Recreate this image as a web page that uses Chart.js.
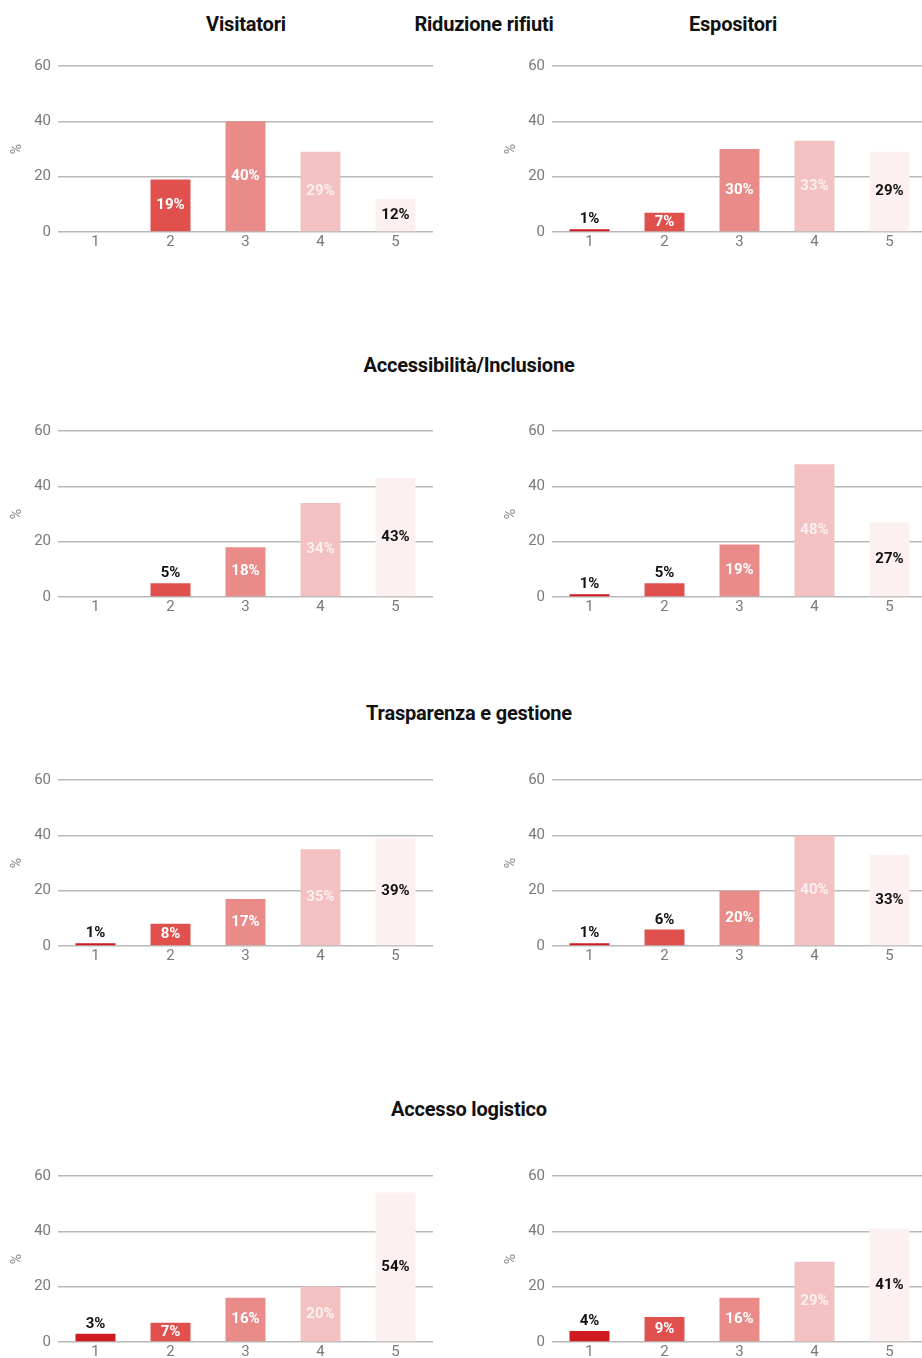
<!DOCTYPE html>
<html lang="it">
<head>
<meta charset="utf-8">
<title>Valutazioni</title>
<script src="https://cdn.jsdelivr.net/npm/chart.js@4.4.1/dist/chart.umd.min.js"></script>
<style>
  html, body { margin: 0; padding: 0; background: #fff; }
  body { width: 922px; height: 1358px; position: relative; overflow: hidden; font-family: Roboto, "Noto Sans", sans-serif; }
  .title { position: absolute; transform: translate(-50%, -50%); font-weight: 700; font-size: 20px; color: #111; white-space: nowrap; letter-spacing: -0.2px; }
  .box { position: absolute; width: 440px; height: 208px; }
</style>
</head>
<body>
<div class="title" style="left:246px;top:24px">Visitatori</div>
<div class="title" style="left:484px;top:24px">Riduzione rifiuti</div>
<div class="title" style="left:733px;top:24px">Espositori</div>
<div class="title" style="left:469px;top:365px">Accessibilità/Inclusione</div>
<div class="title" style="left:469px;top:713px">Trasparenza e gestione</div>
<div class="title" style="left:469px;top:1109px">Accesso logistico</div>

<div class="box" style="left:0;top:50px"><canvas id="c1"></canvas></div>
<div class="box" style="left:494px;top:50px"><canvas id="c2"></canvas></div>
<div class="box" style="left:0;top:415px"><canvas id="c3"></canvas></div>
<div class="box" style="left:494px;top:415px"><canvas id="c4"></canvas></div>
<div class="box" style="left:0;top:764px"><canvas id="c5"></canvas></div>
<div class="box" style="left:494px;top:764px"><canvas id="c6"></canvas></div>
<div class="box" style="left:0;top:1160px"><canvas id="c7"></canvas></div>
<div class="box" style="left:494px;top:1160px"><canvas id="c8"></canvas></div>

<script>
// Rating scale (1 = lowest, 5 = highest)
const ratingLabels = ['1', '2', '3', '4', '5'];
const yMax = 60;
const yStep = 20;

// Share of answers (%) per rating
const visitatoriRifiuti = [0, 19, 40, 29, 12];
const espositoriRifiuti = [1, 7, 30, 33, 29];
const visitatoriAccessibilita = [0, 5, 18, 34, 43];
const espositoriAccessibilita = [1, 5, 19, 48, 27];
const visitatoriTrasparenza = [1, 8, 17, 35, 39];
const espositoriTrasparenza = [1, 6, 20, 40, 33];
const visitatoriLogistica = [3, 7, 16, 20, 54];
const espositoriLogistica = [4, 9, 16, 29, 41];

// One colour per rating, dark red to pale pink
const barColors = ['#d01a20', '#e0514e', '#e98b89', '#f3c1c1', '#fdf0f0'];
const insideLabelColors = ['#111111', '#ffffff', '#ffffff', 'rgba(255,255,255,0.75)', '#111111'];

const FONT = 'Roboto, "Noto Sans", sans-serif';

// Writes "NN%" on each bar; short bars get the label above in black
const valueLabels = {
  id: 'valueLabels',
  afterDatasetsDraw(chart) {
    const ctx = chart.ctx;
    const meta = chart.getDatasetMeta(0);
    const data = chart.data.datasets[0].data;
    ctx.save();
    ctx.font = 'bold 15px ' + FONT;
    ctx.textAlign = 'center';
    meta.data.forEach((bar, i) => {
      const v = data[i];
      if (!v) return;
      const text = v + '%';
      const h = bar.base - bar.y;
      if (h < 18) {
        ctx.fillStyle = '#111111';
        ctx.textBaseline = 'bottom';
        ctx.fillText(text, bar.x, bar.y - 2);
      } else {
        ctx.fillStyle = insideLabelColors[i];
        ctx.textBaseline = 'middle';
        ctx.fillText(text, bar.x, (bar.y + bar.base) / 2);
      }
    });
    ctx.restore();
  }
};

function makeChart(id, values) {
  return new Chart(document.getElementById(id), {
    type: 'bar',
    data: {
      labels: ratingLabels,
      datasets: [{
        data: values,
        backgroundColor: barColors,
        borderWidth: 0,
        categoryPercentage: 1,
        barPercentage: 0.533
      }]
    },
    options: {
      responsive: true,
      maintainAspectRatio: false,
      animation: false,
      layout: { padding: { top: 14, right: 7, left: 0, bottom: 0 } },
      plugins: { legend: { display: false }, tooltip: { enabled: false } },
      scales: {
        x: {
          grid: { display: false, drawTicks: false },
          border: { display: false },
          ticks: { color: '#7a7a7a', font: { family: FONT, size: 15 }, padding: 1 },
          afterFit(scale) { scale.height = 26; }
        },
        y: {
          min: 0,
          max: yMax,
          grid: { color: '#b9b9b9', lineWidth: 1.6, drawTicks: false },
          border: { display: false },
          ticks: { stepSize: yStep, color: '#7a7a7a', font: { family: FONT, size: 15 }, padding: 7 },
          title: {
            display: true,
            text: '%',
            color: '#8a8a8a',
            font: { family: FONT, size: 14 },
            padding: { top: 9, bottom: 0 }
          },
          afterFit(scale) { scale.width = 58; }
        }
      }
    },
    plugins: [valueLabels]
  });
}

makeChart('c1', visitatoriRifiuti);
makeChart('c2', espositoriRifiuti);
makeChart('c3', visitatoriAccessibilita);
makeChart('c4', espositoriAccessibilita);
makeChart('c5', visitatoriTrasparenza);
makeChart('c6', espositoriTrasparenza);
makeChart('c7', visitatoriLogistica);
makeChart('c8', espositoriLogistica);
</script>
</body>
</html>
